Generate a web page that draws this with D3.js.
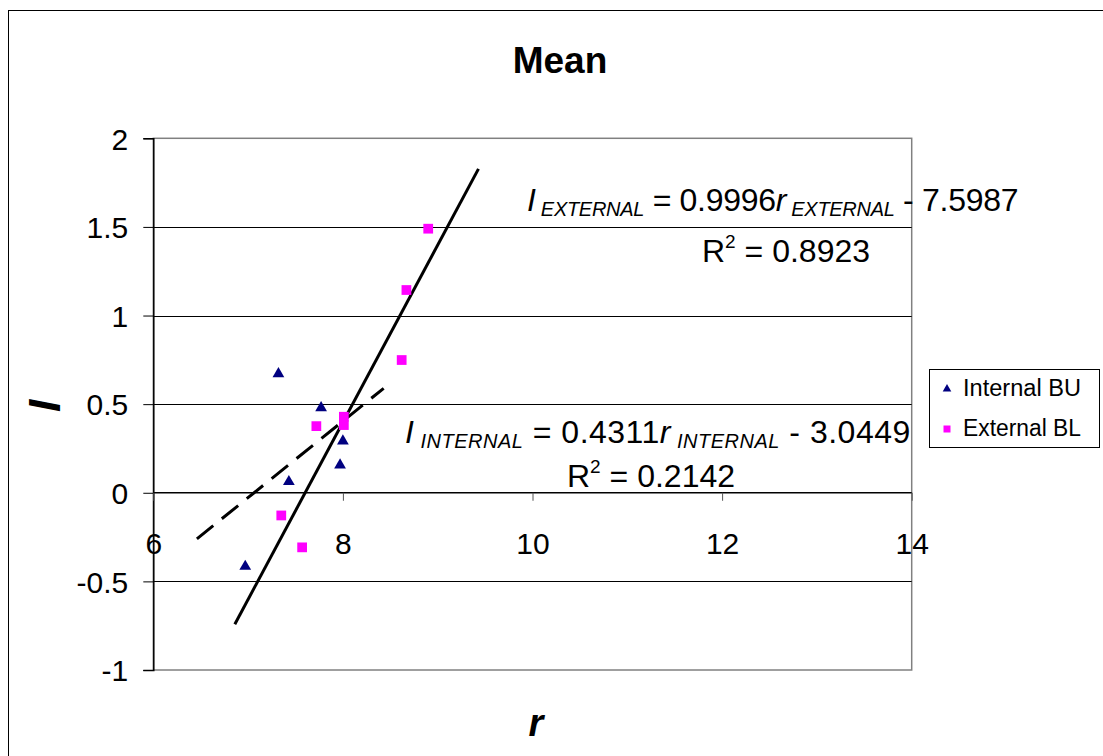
<!DOCTYPE html>
<html>
<head>
<meta charset="utf-8">
<script src="https://cdn.jsdelivr.net/npm/d3@7"></script>
<style>
  html, body { margin: 0; padding: 0; background: #fff; }
  svg { display: block; }
  text { font-family: "Liberation Sans", Arial, sans-serif; fill: #000; }
</style>
</head>
<body>
<svg id="chart" width="1103" height="756"></svg>
<script>
// ---- data ----
const title = "Mean";
const xTicks = [6, 8, 10, 12, 14];
const yTicks = [-1, -0.5, 0, 0.5, 1, 1.5, 2];
const yTickLabels = ["-1", "-0.5", "0", "0.5", "1", "1.5", "2"];
const seriesNames = ["Internal BU", "External BL"];
const internalR = [7.32, 7.77, 7.43, 8.00, 7.97, 6.97];
const internalI = [0.677, 0.485, 0.068, 0.297, 0.162, -0.41];
const externalR = [8.90, 8.67, 8.62, 7.72, 8.01, 8.01, 7.35, 7.57];
const externalI = [1.49, 1.144, 0.749, 0.376, 0.429, 0.382, -0.128, -0.308];
// trendlines (coefficients as printed on the chart) and their drawn extents
const internalFit = [0.4311, -3.0449];
const externalFit = [0.9996, -7.5987];
const internalFitRange = [6.46, 8.43];
const externalFitRange = [6.86, 9.43];
const internalR2 = "0.2142";
const externalR2 = "0.8923";

const svg = d3.select("#chart");
const x = d3.scaleLinear().domain([6, 14]).range([153.3, 911.7]);
const y = d3.scaleLinear().domain([-1, 2]).range([670, 138.3]);

// outer chart border
svg.append("rect").attr("x", 8.5).attr("y", 10.5).attr("width", 1110).attr("height", 760)
  .attr("fill", "#fff").attr("stroke", "#000").attr("stroke-width", 1);

// plot area border (gray)
svg.append("rect").attr("x", x(6)).attr("y", y(2)).attr("width", x(14) - x(6)).attr("height", y(-1) - y(2))
  .attr("fill", "none").attr("stroke", "#808080").attr("stroke-width", 1.5);

// gridlines
svg.append("g").selectAll("line").data(yTicks.filter(v => v > -1 && v < 2 && v !== 0)).join("line")
  .attr("x1", x(6)).attr("x2", x(14)).attr("y1", d => Math.round(y(d)) + 0.5).attr("y2", d => Math.round(y(d)) + 0.5)
  .attr("stroke", "#000").attr("stroke-width", 1);

// y axis
const yAxis = d3.axisLeft(y).tickValues(yTicks).tickSize(10).tickPadding(15)
  .tickFormat((d, i) => yTickLabels[i]);
const gy = svg.append("g").attr("transform", `translate(${x(6)},0)`).call(yAxis);
gy.select(".domain").attr("stroke", "#000").attr("stroke-width", 1.5);
gy.selectAll(".tick line").attr("stroke", "#000");
gy.selectAll(".tick text").attr("font-size", 30).attr("font-family", '"Liberation Sans", Arial, sans-serif')
  .attr("dy", "0.36em");

// x axis at y = 0
const xAxis = d3.axisBottom(x).tickValues(xTicks).tickSize(8).tickPadding(32).tickFormat(d3.format("d"));
const gx = svg.append("g").attr("transform", `translate(0,${y(0)})`).call(xAxis);
gx.select(".domain").attr("stroke", "#000").attr("stroke-width", 1.5).attr("d", `M${x(6)},0H${x(14)}`);
gx.selectAll(".tick line").attr("stroke", "#555");
gx.selectAll(".tick text").attr("font-size", 30).attr("font-family", '"Liberation Sans", Arial, sans-serif');

// trendlines
function fitLine(fit, range) { return range.map(r => [x(r), y(fit[0] * r + fit[1])]); }
const line = d3.line();
svg.append("path").attr("d", line(fitLine(internalFit, internalFitRange)))
  .attr("stroke", "#000").attr("stroke-width", 3).attr("fill", "none").attr("stroke-dasharray", "21,11");
svg.append("path").attr("d", line(fitLine(externalFit, externalFitRange)))
  .attr("stroke", "#000").attr("stroke-width", 3).attr("fill", "none");

// points
const tri = d3.symbol().type(d3.symbolTriangle).size(60);
const sq = d3.symbol().type(d3.symbolSquare).size(95);
svg.append("g").selectAll("path").data(internalR.map((r, i) => [r, internalI[i]])).join("path")
  .attr("d", tri).attr("transform", d => `translate(${x(d[0])},${y(d[1]) + 1})`).attr("fill", "#000080");
svg.append("g").selectAll("path").data(externalR.map((r, i) => [r, externalI[i]])).join("path")
  .attr("d", sq).attr("transform", d => `translate(${x(d[0])},${y(d[1])})`).attr("fill", "#FF00FF");

// equation labels
function equation(xp, yp, sub, slope, intercept, spacing, r2, r2x, r2y) {
  const t = svg.append("text").attr("x", xp).attr("y", yp).attr("font-size", 32)
    .attr("letter-spacing", spacing);
  t.append("tspan").attr("font-style", "italic").text("I");
  t.append("tspan").attr("font-style", "italic").attr("font-size", 20).attr("dy", 5).text(" " + sub);
  t.append("tspan").attr("dy", -5).text(" = " + slope.toFixed(4));
  t.append("tspan").attr("font-style", "italic").text("r");
  t.append("tspan").attr("font-style", "italic").attr("font-size", 20).attr("dy", 5).text(" " + sub);
  t.append("tspan").attr("dy", -5).text(" - " + Math.abs(intercept).toFixed(4));
  const t2 = svg.append("text").attr("x", r2x).attr("y", r2y).attr("font-size", 32);
  t2.append("tspan").text("R");
  t2.append("tspan").attr("font-size", 19).attr("dy", -14).text("2");
  t2.append("tspan").attr("dy", 14).text(" = " + r2);
}
equation(527, 211, "EXTERNAL", externalFit[0], externalFit[1], -0.3, externalR2, 702, 262);
equation(405, 443, "INTERNAL", internalFit[0], internalFit[1], 0.5, internalR2, 567, 487);

// title
svg.append("text").attr("x", 560).attr("y", 73).attr("text-anchor", "middle")
  .attr("font-size", 37).attr("font-weight", "bold").text(title);

// axis titles
svg.append("text").attr("transform", "translate(60,406) rotate(-90)").attr("text-anchor", "middle")
  .attr("font-size", 44).attr("font-weight", "bold").attr("font-style", "italic").text("I");
svg.append("text").attr("x", 536).attr("y", 736).attr("text-anchor", "middle")
  .attr("font-size", 38).attr("font-weight", "bold").attr("font-style", "italic").text("r");

// legend
const lg = svg.append("g");
lg.append("rect").attr("x", 929.5).attr("y", 369.5).attr("width", 170).attr("height", 78)
  .attr("fill", "#fff").attr("stroke", "#000").attr("stroke-width", 1);
const legendItems = [
  { name: seriesNames[0], sym: d3.symbol().type(d3.symbolTriangle).size(32), color: "#000080", yy: 388 },
  { name: seriesNames[1], sym: d3.symbol().type(d3.symbolSquare).size(49), color: "#FF00FF", yy: 428 }
];
legendItems.forEach(it => {
  lg.append("path").attr("d", it.sym).attr("transform", `translate(947,${it.yy + 1})`).attr("fill", it.color);
  lg.append("text").attr("x", 963).attr("y", it.yy + 8).attr("font-size", 23)
    .attr("textLength", 118).attr("lengthAdjust", "spacingAndGlyphs").text(it.name);
});
</script>
</body>
</html>
